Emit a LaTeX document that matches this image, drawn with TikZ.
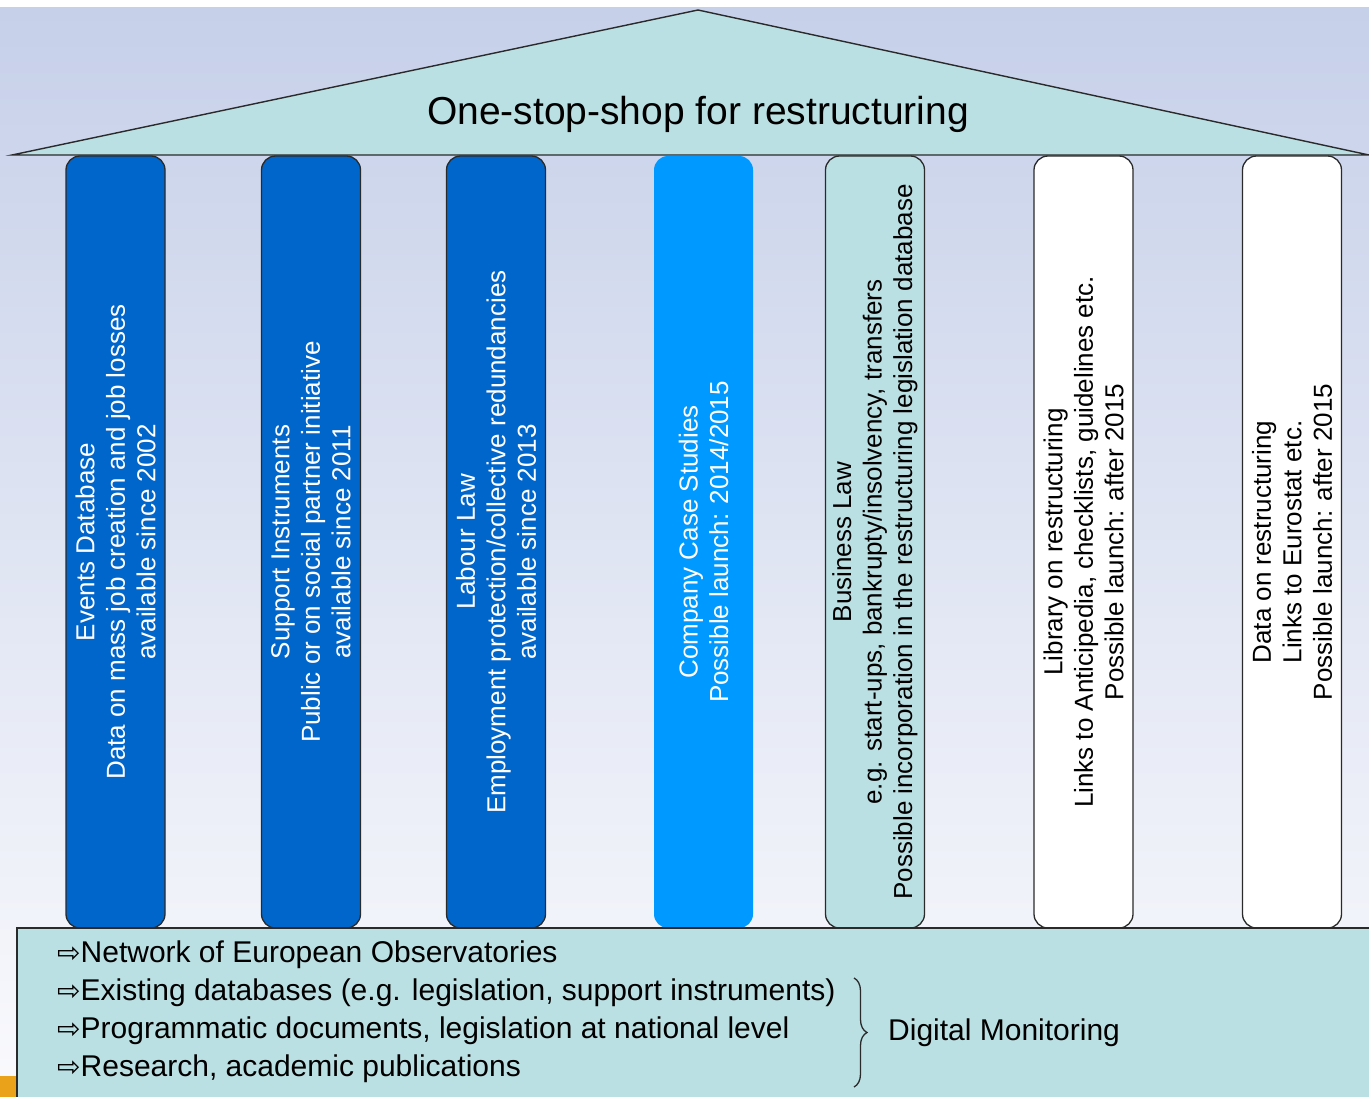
\documentclass[tikz,border=0pt]{standalone}
\usepackage{fontspec}
\setmainfont{Liberation Sans}
\newfontfamily\arrowfont{DejaVu Sans}
\usepackage{tikz}
\usetikzlibrary{decorations.pathreplacing}

\definecolor{skytop}{HTML}{C6D0E9}
\definecolor{skybottom}{HTML}{FAFAFD}
\definecolor{roofteal}{HTML}{BBE0E3}
\definecolor{pillardark}{HTML}{0066CC}
\definecolor{pillarbright}{HTML}{0099FF}
\definecolor{edgegray}{HTML}{2A2A2A}
\definecolor{cornergold}{HTML}{E9A21A}

\newcommand{\hint}{{\arrowfont\fontsize{28}{30}\selectfont ⇨}}

\tikzset{
  pillar/.style={rotate=90, minimum width=772pt, minimum height=99pt,
    rounded corners=14pt, draw=edgegray, line width=1.3pt, align=center,
    inner sep=0pt, font=\fontsize{26}{30.5}\selectfont},
  darkpillar/.style={pillar, fill=pillardark, text=white},
  lightpillar/.style={pillar, fill=roofteal, text=black},
  whitepillar/.style={pillar, fill=white, text=black},
  baseline/.style={anchor=west, inner sep=0pt, font=\fontsize{30}{36}\selectfont}
}

\begin{document}
\begin{tikzpicture}[x=1pt, y=-1pt]

    \useasboundingbox (0,0) rectangle (1369,1097);
    \clip (0,0) rectangle (1369,1097);

    \fill[white] (0,0) rectangle (1369,8);

    \shade[top color=skytop, bottom color=skybottom] (0,8) rectangle (1369,1097);

    \fill[cornergold] (0,1076) rectangle (17,1097);

    \draw[fill=roofteal, draw=edgegray, line width=1.4pt] (12,155) -- (698,10) -- (1369,155) -- cycle;

    \node[font=\fontsize{39}{44}\selectfont] (title) at (698,114) {One-stop-shop for restructuring};

    \node[darkpillar] (events) at (115.5,542) {Events Database\\Data on mass job creation and job losses\\available since 2002};

    \node[darkpillar] (support) at (311,542) {Support Instruments\\Public or on social partner initiative\\available since 2011};

    \node[darkpillar] (labour) at (496,542) {Labour Law\\Employment protection/collective redundancies\\available since 2013};

    \node[pillar, draw=none, fill=pillarbright, text=white] (cases) at (703.5,542) {Company Case Studies\\Possible launch: 2014/2015};

    \node[lightpillar] (business) at (875,542) {Business Law\\e.g. start-ups, bankrupty/insolvency, transfers\\Possible incorporation in the restructuring legislation database};

    \node[whitepillar] (library) at (1083.5,542) {Library on restructuring\\Links to Anticipedia, checklists, guidelines etc.\\Possible launch: after 2015};

    \node[whitepillar] (data) at (1292,542) {Data on restructuring\\Links to Eurostat etc.\\Possible launch: after 2015};

    \draw[fill=roofteal, draw=edgegray, line width=1.5pt] (17,928) rectangle (1390,1120);

    \node[baseline] (network) at (57,955) {\hint Network of European Observatories};

    \node[baseline] (existing) at (57,993) {\hint Existing databases (e.g. legislation, support instruments)};

    \node[baseline] (programmes) at (57,1031) {\hint Programmatic documents, legislation at national level};

    \node[baseline] (research) at (57,1069) {\hint Research, academic publications};

    \coordinate (bracetop) at (854,978);
    \coordinate (bracebottom) at (854,1087);

    \draw[edgegray, line width=1.3pt, decorate, decoration={brace, amplitude=13pt}] (bracetop) -- (bracebottom);

    \node[baseline] (monitoring) at (888,1033) {Digital Monitoring};

\end{tikzpicture}
\end{document}
